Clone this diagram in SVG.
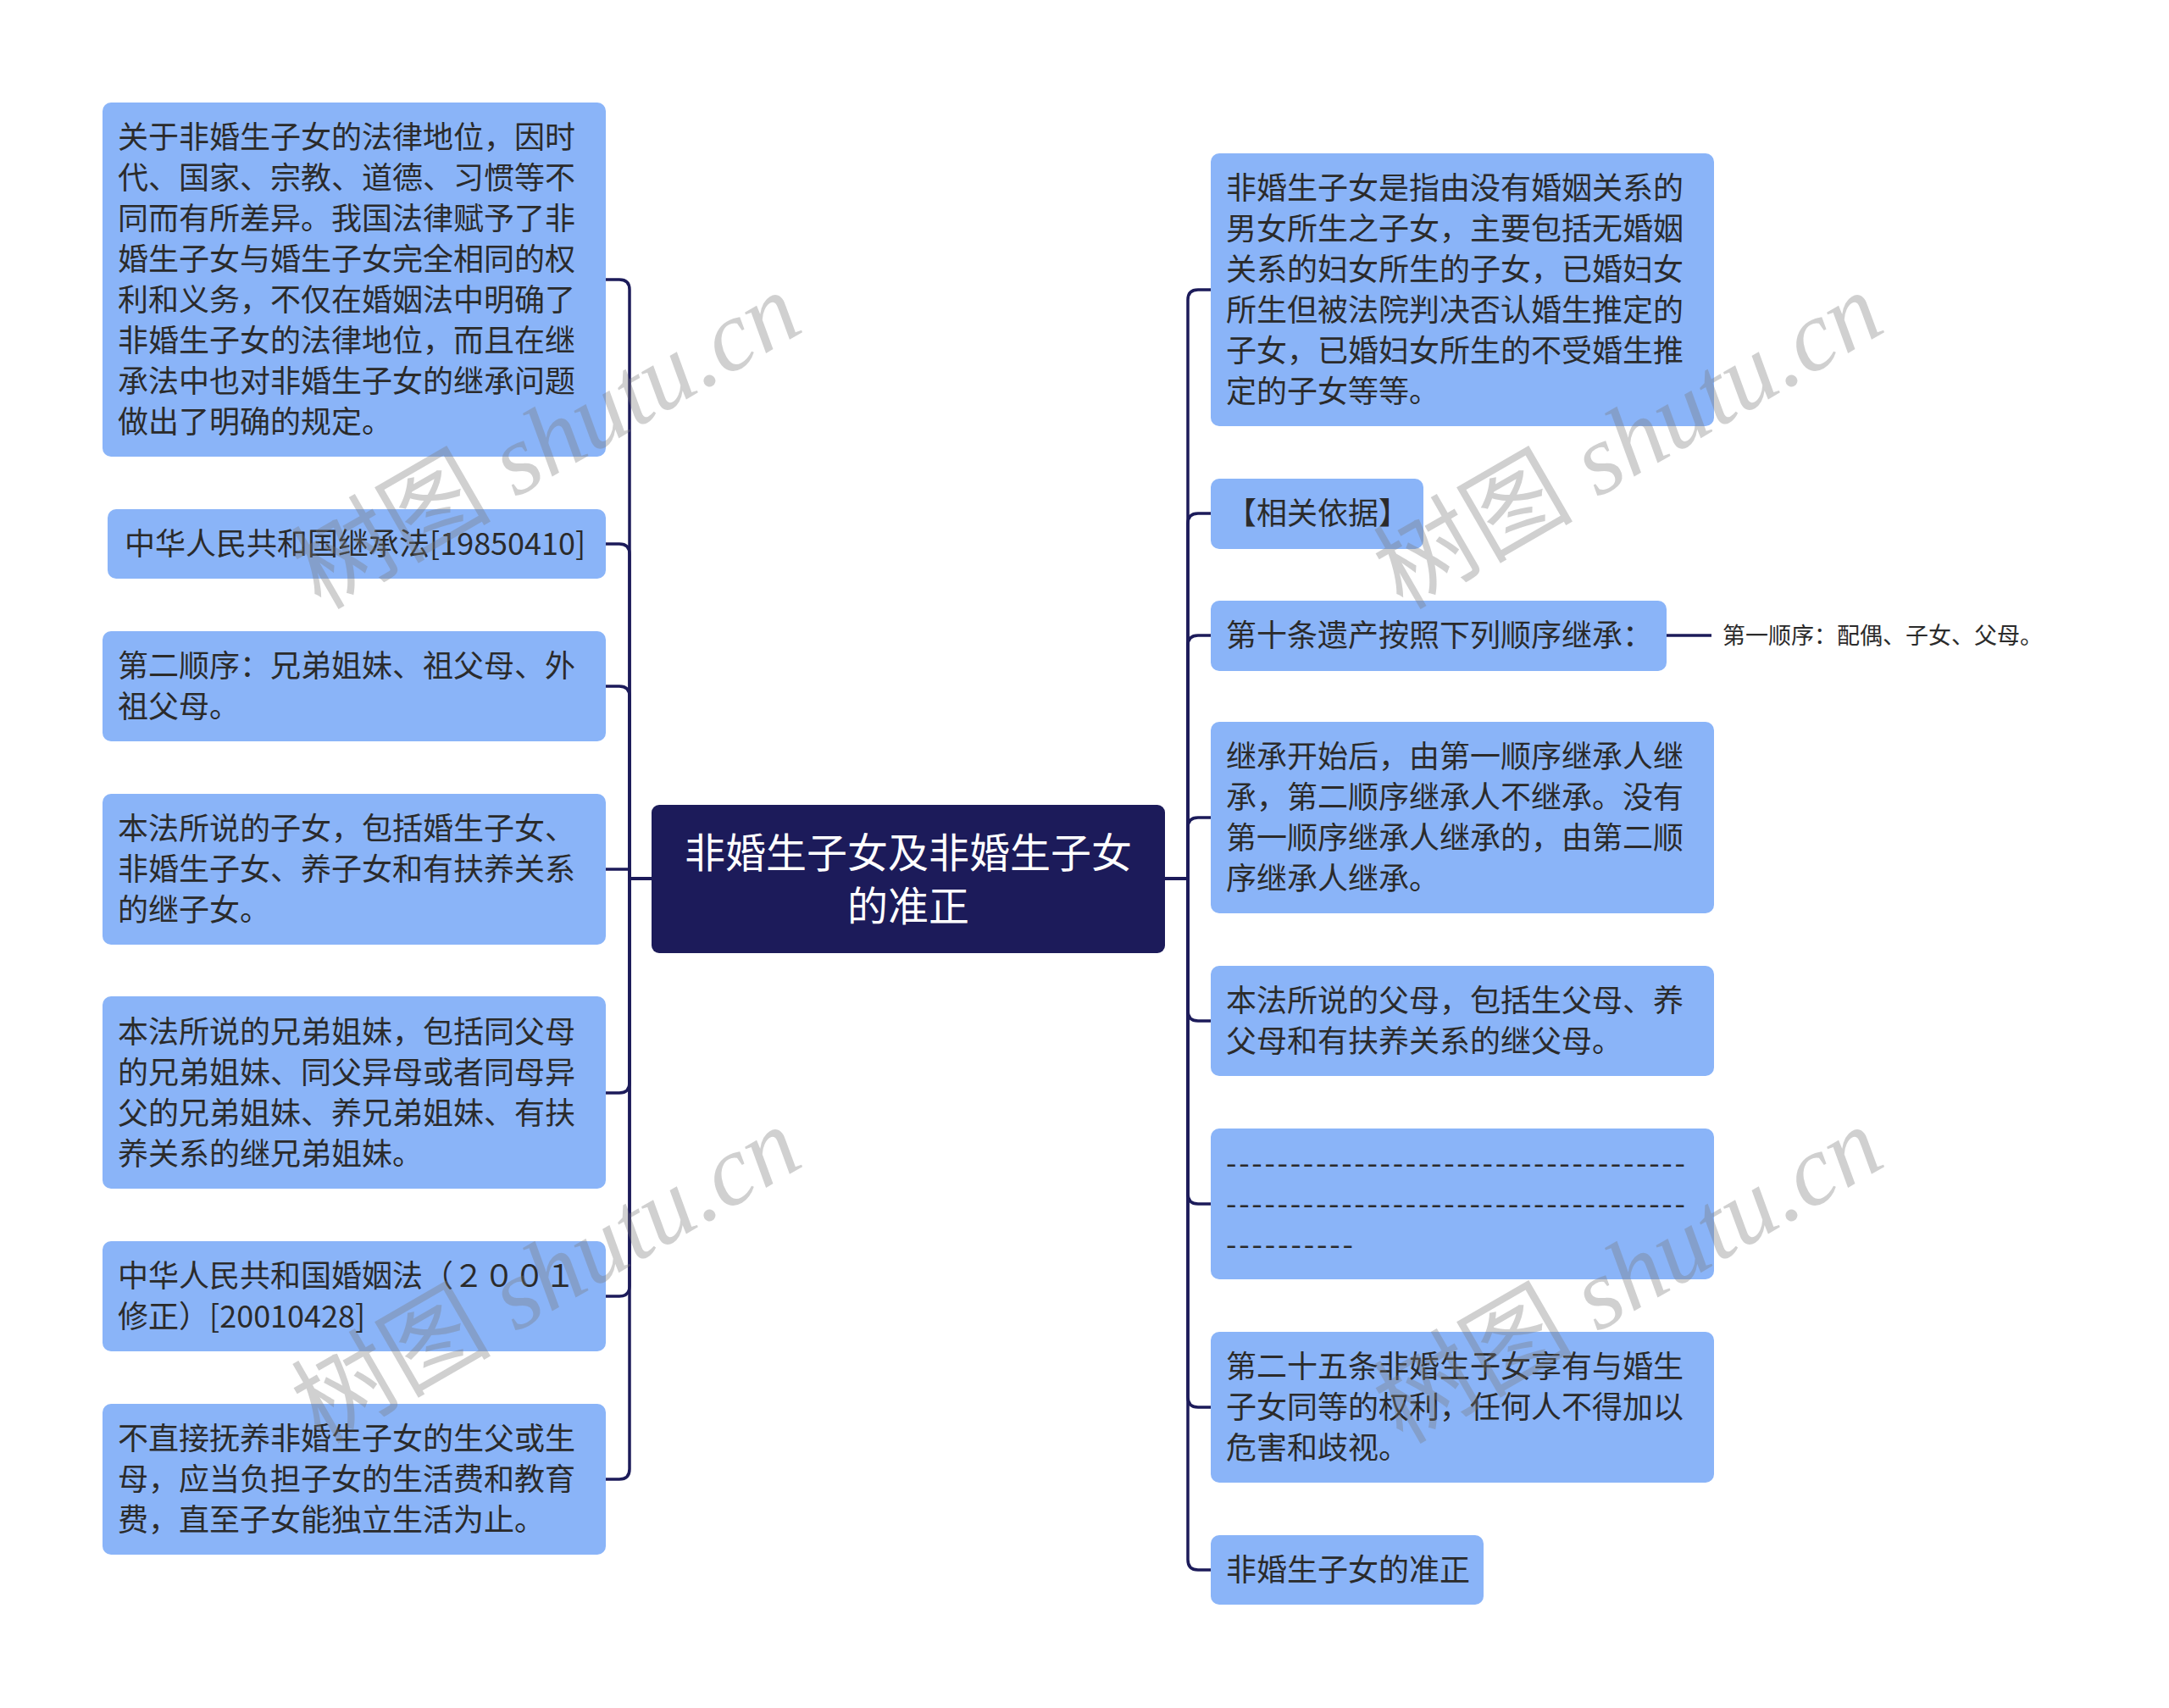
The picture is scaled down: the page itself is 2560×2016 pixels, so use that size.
<svg xmlns="http://www.w3.org/2000/svg" width="2560" height="2016" viewBox="0 0 2560 2016">
<style>
.box{fill:#8ab4f8;}
.t{font-family:"Noto Sans CJK SC","Liberation Sans",sans-serif;font-size:36px;fill:#2b2b2b;}
.c{font-family:"Noto Sans CJK SC","Liberation Sans",sans-serif;font-size:48px;fill:#ffffff;text-anchor:middle;}
.s{font-family:"Noto Sans CJK SC","Liberation Sans",sans-serif;font-size:27px;fill:#2b2b2b;}
.ln{fill:none;stroke:#1c1b5a;stroke-width:3.5;}
.wm{font-family:"Liberation Serif","Noto Sans CJK SC",serif;font-size:118px;fill:#7a7a7a;opacity:0.35;text-anchor:middle;}
</style>
<rect width="2560" height="2016" fill="#ffffff"/>
<g id="connectors">
<path class="ln" d="M769,1037 H743 V342 Q743,330 731,330 H715"/>
<path class="ln" d="M769,1037 H743 V654 Q743,642 731,642 H715"/>
<path class="ln" d="M769,1037 H743 V822 Q743,810 731,810 H715"/>
<path class="ln" d="M769,1037 H743 V1026 H715"/>
<path class="ln" d="M769,1037 H743 V1278 Q743,1290 731,1290 H715"/>
<path class="ln" d="M769,1037 H743 V1518 Q743,1530 731,1530 H715"/>
<path class="ln" d="M769,1037 H743 V1734 Q743,1746 731,1746 H715"/>
<path class="ln" d="M1375,1037 H1402 V354 Q1402,342 1414,342 H1429"/>
<path class="ln" d="M1375,1037 H1402 V618 Q1402,606 1414,606 H1429"/>
<path class="ln" d="M1375,1037 H1402 V762 Q1402,750 1414,750 H1429"/>
<path class="ln" d="M1375,1037 H1402 V977 Q1402,965 1414,965 H1429"/>
<path class="ln" d="M1375,1037 H1402 V1193 Q1402,1205 1414,1205 H1429"/>
<path class="ln" d="M1375,1037 H1402 V1409 Q1402,1421 1414,1421 H1429"/>
<path class="ln" d="M1375,1037 H1402 V1649 Q1402,1661 1414,1661 H1429"/>
<path class="ln" d="M1375,1037 H1402 V1841 Q1402,1853 1414,1853 H1429"/>
<path class="ln" d="M1967,750 H2020"/>
</g>
<g id="center">
<rect x="769" y="950" width="606" height="175" rx="9" fill="#1c1b5a"/>
<text class="c" x="1072" y="1024">非婚生子女及非婚生子女</text>
<text class="c" x="1072" y="1087">的准正</text>
</g>
<g id="L1">
<rect class="box" x="121" y="121" width="594" height="418" rx="10"/>
<text class="t" x="139" y="175">关于非婚生子女的法律地位，因时</text>
<text class="t" x="139" y="223">代、国家、宗教、道德、习惯等不</text>
<text class="t" x="139" y="271">同而有所差异。我国法律赋予了非</text>
<text class="t" x="139" y="319">婚生子女与婚生子女完全相同的权</text>
<text class="t" x="139" y="367">利和义务，不仅在婚姻法中明确了</text>
<text class="t" x="139" y="415">非婚生子女的法律地位，而且在继</text>
<text class="t" x="139" y="463">承法中也对非婚生子女的继承问题</text>
<text class="t" x="139" y="511">做出了明确的规定。</text>
</g>
<g id="L2">
<rect class="box" x="127" y="601" width="588" height="82" rx="10"/>
<text class="t" x="147" y="655">中华人民共和国继承法[19850410]</text>
</g>
<g id="L3">
<rect class="box" x="121" y="745" width="594" height="130" rx="10"/>
<text class="t" x="139" y="799">第二顺序：兄弟姐妹、祖父母、外</text>
<text class="t" x="139" y="847">祖父母。</text>
</g>
<g id="L4">
<rect class="box" x="121" y="937" width="594" height="178" rx="10"/>
<text class="t" x="139" y="991">本法所说的子女，包括婚生子女、</text>
<text class="t" x="139" y="1039">非婚生子女、养子女和有扶养关系</text>
<text class="t" x="139" y="1087">的继子女。</text>
</g>
<g id="L5">
<rect class="box" x="121" y="1176" width="594" height="227" rx="10"/>
<text class="t" x="139" y="1231">本法所说的兄弟姐妹，包括同父母</text>
<text class="t" x="139" y="1279">的兄弟姐妹、同父异母或者同母异</text>
<text class="t" x="139" y="1327">父的兄弟姐妹、养兄弟姐妹、有扶</text>
<text class="t" x="139" y="1375">养关系的继兄弟姐妹。</text>
</g>
<g id="L6">
<rect class="box" x="121" y="1465" width="594" height="130" rx="10"/>
<text class="t" x="139" y="1519">中华人民共和国婚姻法（２００１</text>
<text class="t" x="139" y="1567">修正）[20010428]</text>
</g>
<g id="L7">
<rect class="box" x="121" y="1657" width="594" height="178" rx="10"/>
<text class="t" x="139" y="1711">不直接抚养非婚生子女的生父或生</text>
<text class="t" x="139" y="1759">母，应当负担子女的生活费和教育</text>
<text class="t" x="139" y="1807">费，直至子女能独立生活为止。</text>
</g>
<g id="R1">
<rect class="box" x="1429" y="181" width="594" height="322" rx="10"/>
<text class="t" x="1447" y="235">非婚生子女是指由没有婚姻关系的</text>
<text class="t" x="1447" y="283">男女所生之子女，主要包括无婚姻</text>
<text class="t" x="1447" y="331">关系的妇女所生的子女，已婚妇女</text>
<text class="t" x="1447" y="379">所生但被法院判决否认婚生推定的</text>
<text class="t" x="1447" y="427">子女，已婚妇女所生的不受婚生推</text>
<text class="t" x="1447" y="475">定的子女等等。</text>
</g>
<g id="R2">
<rect class="box" x="1429" y="565" width="251" height="83" rx="10"/>
<text class="t" x="1447" y="619">【相关依据】</text>
</g>
<g id="R3">
<rect class="box" x="1429" y="709" width="538" height="83" rx="10"/>
<text class="t" x="1447" y="763">第十条遗产按照下列顺序继承：</text>
</g>
<g id="R3a">
<text class="s" x="2033" y="760">第一顺序：配偶、子女、父母。</text>
</g>
<g id="R4">
<rect class="box" x="1429" y="852" width="594" height="226" rx="10"/>
<text class="t" x="1447" y="906">继承开始后，由第一顺序继承人继</text>
<text class="t" x="1447" y="954">承，第二顺序继承人不继承。没有</text>
<text class="t" x="1447" y="1002">第一顺序继承人继承的，由第二顺</text>
<text class="t" x="1447" y="1050">序继承人继承。</text>
</g>
<g id="R5">
<rect class="box" x="1429" y="1140" width="594" height="130" rx="10"/>
<text class="t" x="1447" y="1194">本法所说的父母，包括生父母、养</text>
<text class="t" x="1447" y="1242">父母和有扶养关系的继父母。</text>
</g>
<g id="R6">
<rect class="box" x="1429" y="1332" width="594" height="178" rx="10"/>
<text class="t" x="1447" y="1386" textLength="542" lengthAdjust="spacing">------------------------------------</text>
<text class="t" x="1447" y="1434" textLength="542" lengthAdjust="spacing">------------------------------------</text>
<text class="t" x="1447" y="1482" textLength="150" lengthAdjust="spacing">----------</text>
</g>
<g id="R7">
<rect class="box" x="1429" y="1572" width="594" height="178" rx="10"/>
<text class="t" x="1447" y="1626">第二十五条非婚生子女享有与婚生</text>
<text class="t" x="1447" y="1674">子女同等的权利，任何人不得加以</text>
<text class="t" x="1447" y="1722">危害和歧视。</text>
</g>
<g id="R8">
<rect class="box" x="1429" y="1812" width="322" height="82" rx="10"/>
<text class="t" x="1447" y="1866">非婚生子女的准正</text>
</g>
<g id="watermarks">
<text class="wm" transform="translate(665,555) rotate(-30)">树图 <tspan font-style="italic">shutu.cn</tspan></text>
<text class="wm" transform="translate(665,1540) rotate(-30)">树图 <tspan font-style="italic">shutu.cn</tspan></text>
<text class="wm" transform="translate(1942,555) rotate(-30)">树图 <tspan font-style="italic">shutu.cn</tspan></text>
<text class="wm" transform="translate(1942,1540) rotate(-30)">树图 <tspan font-style="italic">shutu.cn</tspan></text>
</g>
</svg>
